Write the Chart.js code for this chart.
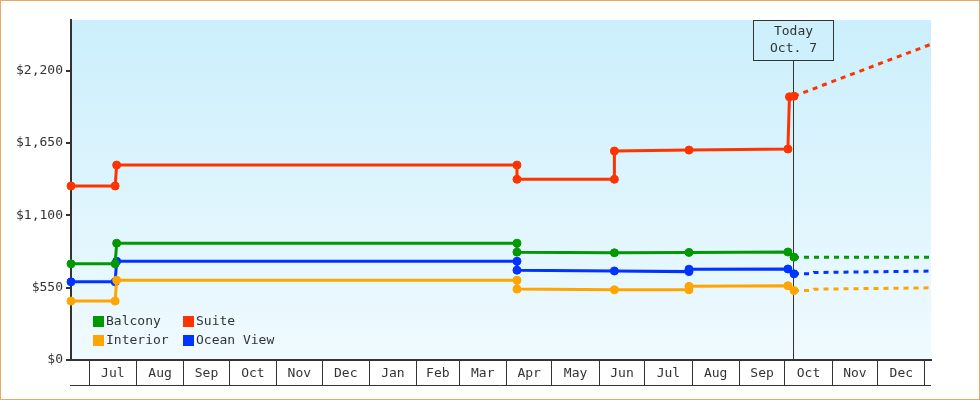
<!DOCTYPE html>
<html>
<head>
<meta charset="utf-8">
<script src="https://cdn.jsdelivr.net/npm/chart.js@4.4.0/dist/chart.umd.min.js"></script>
<style>
  body { margin: 0; background: #fff; }
  #frame { width: 978px; height: 398px; border: 1px solid #e9a862; }
  canvas { display: block; }
</style>
</head>
<body>
<div id="frame"><canvas id="cv" width="978" height="398"></canvas></div>
<script>
const FONT = "'DejaVu Sans Mono', 'Liberation Mono', monospace"
const INK = '#333333'

// time range, "today" marker
const startDate = '2022-06-19'
const endDate = '2024-01-05'
const todayDate = '2023-10-07'
const todayLines = ['Today', 'Oct. 7']

// x axis: full months between Jul 2022 and Dec 2023
const monthLabels = ['Jul', 'Aug', 'Sep', 'Oct', 'Nov', 'Dec', 'Jan', 'Feb', 'Mar',
  'Apr', 'May', 'Jun', 'Jul', 'Aug', 'Sep', 'Oct', 'Nov', 'Dec']

// y axis
const priceTicks = [0, 550, 1100, 1650, 2200]
const priceMax = 2585

// series
const seriesNames = ['Balcony', 'Suite', 'Interior', 'Ocean View']
const seriesColors = ['#009900', '#ff3300', '#ffa500', '#0033ff']

const balconyDates = ['2022-06-19', '2022-07-18', '2022-07-19', '2023-04-08', '2023-04-08',
  '2023-06-11', '2023-07-30', '2023-10-03', '2023-10-07', '2024-01-05']
const balconyPrices = [731, 731, 888, 888, 820, 815, 818, 821, 782, 782]

const suiteDates = ['2022-06-19', '2022-07-18', '2022-07-19', '2023-04-08', '2023-04-08',
  '2023-06-11', '2023-06-11', '2023-07-30', '2023-10-03', '2023-10-04', '2023-10-07', '2024-01-05']
const suitePrices = [1323, 1323, 1482, 1482, 1374, 1374, 1589, 1596, 1604, 2001, 2006, 2401]

const interiorDates = ['2022-06-19', '2022-07-18', '2022-07-19', '2023-04-08', '2023-04-08',
  '2023-06-11', '2023-07-30', '2023-07-30', '2023-10-03', '2023-10-07', '2023-10-19', '2023-10-20', '2024-01-05']
const interiorPrices = [448, 448, 607, 607, 539, 534, 534, 560, 565, 528, 528, 538, 549]

const oceanDates = ['2022-06-19', '2022-07-18', '2022-07-19', '2023-04-08', '2023-04-08',
  '2023-06-11', '2023-07-30', '2023-07-30', '2023-10-03', '2023-10-07', '2023-10-19', '2023-10-20', '2024-01-05']
const oceanPrices = [594, 594, 751, 751, 683, 677, 672, 690, 692, 655, 655, 665, 676]

/**
 * 'YYYY-MM-DD' -> days since epoch
 */
function day(s) {
  const [y, m, d] = s.split('-').map(Number)
  return Date.UTC(y, m - 1, d) / 86400000
}

const today = day(todayDate)

// month boundaries + mid points (labels sit in the middle of each month band)
const monthEdges = []
for (let i = 0; i <= monthLabels.length; i++) monthEdges.push(Date.UTC(2022, 6 + i, 1) / 86400000)
const midLabel = new Map()
monthLabels.forEach((l, i) => midLabel.set((monthEdges[i] + monthEdges[i + 1]) / 2, l))
const xTicks = monthEdges.concat([...midLabel.keys()]).sort((a, b) => a - b)

function makeSeries(i, dates, prices) {
  return {
    label: seriesNames[i],
    data: dates.map((d, j) => ({ x: day(d), y: prices[j] })),
    borderColor: seriesColors[i],
    backgroundColor: seriesColors[i],
    borderWidth: 3,
    pointRadius: ctx => (ctx.raw && ctx.raw.x > today ? 0 : 4),
    pointBorderWidth: 1,
    pointStyle: 'circle',
    tension: 0,
    clip: false,
    segment: {
      borderDash: ctx => (ctx.p0.parsed.x >= today ? [5, 5] : undefined)
    }
  }
}

/**
 * Plugins
 */
const plotBackground = {
  id: 'plotBackground',
  beforeDraw(chart) {
    const { ctx, chartArea: a } = chart
    const g = ctx.createLinearGradient(0, a.top, 0, a.bottom)
    g.addColorStop(0, '#cbeffc')
    g.addColorStop(1, '#f0faff')
    ctx.save()
    ctx.fillStyle = g
    ctx.fillRect(a.left, a.top, a.right - a.left, a.bottom - a.top)
    ctx.restore()
  }
}

const todayMarker = {
  id: 'todayMarker',
  beforeDatasetsDraw(chart) {
    const { ctx, chartArea: a } = chart
    const x = Math.round(chart.scales.x.getPixelForValue(today)) - 0.5
    const bw = 80, bh = 40
    const bx = x - bw / 2, by = a.top + 0.5
    ctx.save()
    ctx.strokeStyle = INK
    ctx.lineWidth = 1
    ctx.beginPath()
    ctx.moveTo(x, by + bh)
    ctx.lineTo(x, a.bottom)
    ctx.stroke()
    ctx.fillStyle = '#cdf0fc'
    ctx.fillRect(bx, by, bw, bh)
    ctx.strokeRect(bx, by, bw, bh)
    ctx.fillStyle = INK
    ctx.font = '13px ' + FONT
    ctx.textAlign = 'center'
    ctx.textBaseline = 'middle'
    ctx.fillText(todayLines[0], x, a.top + 12)
    ctx.fillText(todayLines[1], x, a.top + 29)
    ctx.restore()
  }
}

const axisBottomRule = {
  id: 'axisBottomRule',
  afterDraw(chart) {
    const { ctx, chartArea: a } = chart
    ctx.save()
    ctx.strokeStyle = INK
    ctx.lineWidth = 1
    ctx.beginPath()
    ctx.moveTo(a.left - 1, a.bottom + 25.5)
    ctx.lineTo(a.right, a.bottom + 25.5)
    ctx.stroke()
    ctx.restore()
  }
}

const insideLegend = {
  id: 'insideLegend',
  afterDraw(chart) {
    const { ctx, chartArea: a } = chart
    ctx.save()
    ctx.font = '13px ' + FONT
    ctx.textBaseline = 'middle'
    ctx.textAlign = 'left'
    chart.data.datasets.forEach((ds, i) => {
      const x = a.left + 22 + (i % 2) * 90
      const y = a.bottom - 44 + Math.floor(i / 2) * 19
      ctx.fillStyle = ds.borderColor
      ctx.fillRect(x, y, 11, 11)
      ctx.fillStyle = INK
      ctx.fillText(ds.label, x + 13, y + 6)
    })
    ctx.restore()
  }
}

/**
 * Chart
 */
const chart = new Chart(document.getElementById('cv').getContext('2d'), {
  type: 'line',
  data: {
    datasets: [
      makeSeries(0, balconyDates, balconyPrices),
      makeSeries(1, suiteDates, suitePrices),
      makeSeries(2, interiorDates, interiorPrices),
      makeSeries(3, oceanDates, oceanPrices)
    ]
  },
  options: {
    responsive: false,
    animation: false,
    events: [],
    layout: { padding: { top: 19, right: 48, left: 0, bottom: 0 } },
    plugins: { legend: { display: false }, tooltip: { enabled: false } },
    scales: {
      x: {
        type: 'linear',
        min: day(startDate),
        max: day(endDate),
        afterBuildTicks: s => { s.ticks = xTicks.map(v => ({ value: v })) },
        afterFit: s => { s.height = 39 },
        border: { color: INK, width: 2 },
        grid: {
          drawOnChartArea: false,
          tickLength: 25,
          lineWidth: 1,
          color: ctx => (ctx.tick && midLabel.has(ctx.tick.value) ? 'rgba(0,0,0,0)' : INK)
        },
        ticks: {
          autoSkip: false,
          maxRotation: 0,
          padding: -19,
          color: INK,
          font: { family: FONT, size: 13 },
          callback: v => midLabel.get(v) || ''
        }
      },
      y: {
        min: 0,
        max: priceMax,
        afterBuildTicks: s => { s.ticks = priceTicks.map(v => ({ value: v })) },
        afterFit: s => { s.width = 70 },
        border: { color: INK, width: 2 },
        grid: { drawOnChartArea: false, tickLength: 5, lineWidth: 2, color: INK },
        ticks: {
          padding: 3,
          color: INK,
          font: { family: FONT, size: 13 },
          callback: v => '$' + v.toLocaleString('en-US')
        }
      }
    }
  },
  plugins: [plotBackground, todayMarker, axisBottomRule, insideLegend]
})
</script>
</body>
</html>
